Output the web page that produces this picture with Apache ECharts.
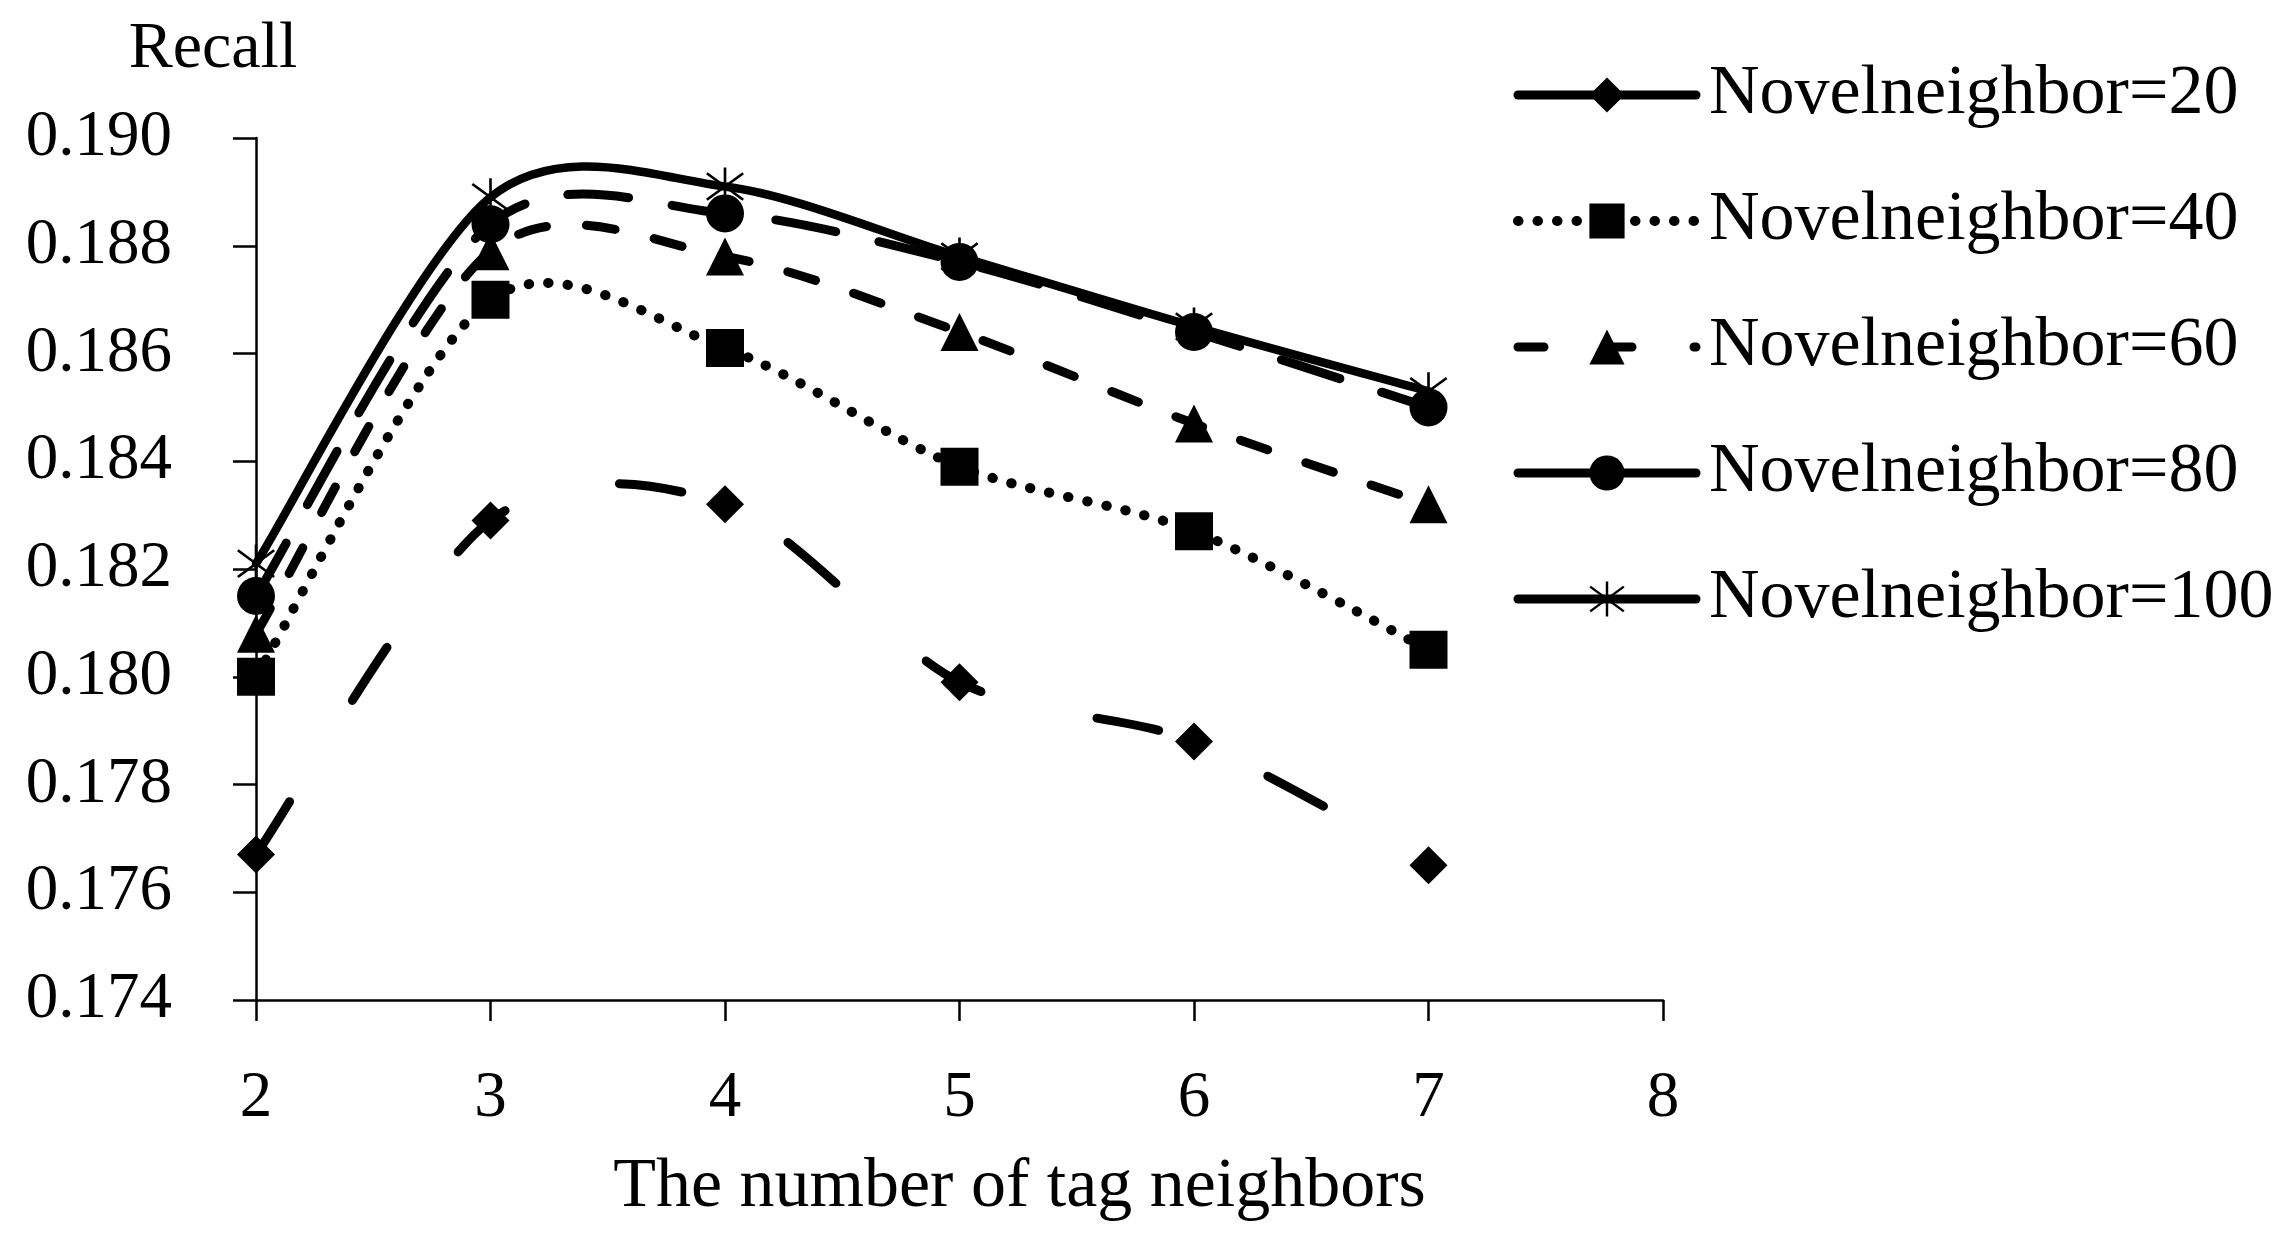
<!DOCTYPE html>
<html>
<head>
<meta charset="utf-8">
<script src="https://cdn.jsdelivr.net/npm/echarts@6/dist/echarts.min.js"></script>
<style>
html,body{margin:0;padding:0;background:#fff;}
#chart{width:2286px;height:1242px;}
</style>
</head>
<body>
<div id="chart"></div>
<script>
// ---- data ----
var xValues = [2, 3, 4, 5, 6, 7];
var seriesNames = ['Novelneighbor=20', 'Novelneighbor=40', 'Novelneighbor=60', 'Novelneighbor=80', 'Novelneighbor=100'];
var recall20  = [0.1767, 0.1829, 0.1832, 0.1799, 0.1788, 0.1765];
var recall40  = [0.1800, 0.1870, 0.1861, 0.1839, 0.1827, 0.1805];
var recall60  = [0.1808, 0.1879, 0.1878, 0.1864, 0.1847, 0.1832];
var recall80  = [0.1815, 0.1884, 0.1886, 0.1877, 0.1864, 0.1850];
var recall100 = [0.1821, 0.1889, 0.1891, 0.1878, 0.1865, 0.1853];
var yTicks = [0.174, 0.176, 0.178, 0.180, 0.182, 0.184, 0.186, 0.188, 0.190];
var xTicks = [2, 3, 4, 5, 6, 7, 8];

var FONT = '"Liberation Serif", "DejaVu Serif", serif';
var starPath = 'path://M9.35 0 L10.65 0 L10.65 20 L9.35 20 Z M0.6 3.51 L18.6 17.51 L19.4 16.49 L1.4 2.49 Z M1.4 17.51 L19.4 3.51 L18.6 2.49 L0.6 16.49 Z';
var TENSION = 0.15; // spreadsheet-style smoothing strength

function pairs(vals) {
  return xValues.map(function (x, i) { return [x, vals[i]]; });
}

var styles = [
  { data: recall20,  symbol: 'diamond',  dash: [63, 119], width: 9 },
  { data: recall40,  symbol: 'rect',     dash: [0.5, 19], width: 10 },
  { data: recall60,  symbol: 'triangle', dash: [29, 40],  width: 9 },
  { data: recall80,  symbol: 'circle',   dash: [61, 44],  width: 9 },
  { data: recall100, symbol: starPath,   dash: null,      width: 8.5 }
];
var legendLine = ['solid', [0.5, 19], [26, 62], 'solid', 'solid'];
var legendWidth = [9, 10, 9, 9, 9];

// smooth bezier path through the points mapped by the axes (api.coord)
function smoothPath(pts) {
  function dist(a, b) { return Math.sqrt((a[0]-b[0])*(a[0]-b[0]) + (a[1]-b[1])*(a[1]-b[1])); }
  var d = 'M' + pts[0][0] + ' ' + pts[0][1];
  for (var i = 0; i < pts.length - 1; i++) {
    var p0 = pts[i - 1] || pts[i], p1 = pts[i], p2 = pts[i + 1], p3 = pts[i + 2] || pts[i + 1];
    var seg = dist(p1, p2);
    var t1 = [(p2[0]-p0[0]) * TENSION, (p2[1]-p0[1]) * TENSION];
    var t2 = [(p3[0]-p1[0]) * TENSION, (p3[1]-p1[1]) * TENSION];
    var l1 = Math.sqrt(t1[0]*t1[0] + t1[1]*t1[1]), l2 = Math.sqrt(t2[0]*t2[0] + t2[1]*t2[1]);
    if (l1 > seg / 2) { t1 = [t1[0] * seg / 2 / l1, t1[1] * seg / 2 / l1]; }
    if (l2 > seg / 2) { t2 = [t2[0] * seg / 2 / l2, t2[1] * seg / 2 / l2]; }
    d += ' C' + (p1[0]+t1[0]) + ' ' + (p1[1]+t1[1]) + ' ' + (p2[0]-t2[0]) + ' ' + (p2[1]-t2[1]) + ' ' + p2[0] + ' ' + p2[1];
  }
  return d;
}

var series = [];
// curves
styles.forEach(function (s, i) {
  series.push({
    name: seriesNames[i] + ' (curve)',
    type: 'custom',
    data: pairs(s.data),
    z: 2 + i,
    silent: true,
    renderItem: function (params, api) {
      if (params.dataIndex !== 0) { return null; }
      var pts = xValues.map(function (x, k) { return api.coord([x, s.data[k]]); });
      var st = { fill: 'none', stroke: '#000', lineWidth: s.width, lineCap: 'round', lineJoin: 'round' };
      if (s.dash) { st.lineDash = s.dash; }
      return { type: 'path', shape: { pathData: smoothPath(pts) }, style: st };
    }
  });
});
// markers
styles.forEach(function (s, i) {
  series.push({
    name: seriesNames[i],
    type: 'line',
    data: pairs(s.data),
    symbol: s.symbol,
    symbolSize: 38,
    showAllSymbol: true,
    itemStyle: { color: '#000' },
    lineStyle: { color: '#000', width: s.width, opacity: 0 },
    z: 10 + i
  });
});

var chart = echarts.init(document.getElementById('chart'), null, { renderer: 'canvas' });
chart.setOption({
  backgroundColor: '#fff',
  animation: false,
  textStyle: { fontFamily: FONT, color: '#000' },
  grid: { left: 256, right: 623, top: 138, bottom: 242, containLabel: false },
  legend: {
    orient: 'vertical',
    left: 1513,
    top: 60,
    padding: 0,
    itemWidth: 178,
    itemHeight: 44,
    itemGap: 56,
    align: 'left',
    lineStyle: { width: 9, opacity: 1, color: '#000', cap: 'round' },
    textStyle: { fontFamily: FONT, fontSize: 70, color: '#000', padding: [0, 0, 0, 8] },
    data: seriesNames.map(function (n, i) {
      return { name: n, lineStyle: { type: legendLine[i], width: legendWidth[i], cap: 'round', opacity: 1, color: '#000' } };
    })
  },
  xAxis: {
    type: 'value',
    min: xTicks[0],
    max: xTicks[xTicks.length - 1],
    interval: 1,
    name: 'The number of tag neighbors',
    nameLocation: 'middle',
    nameGap: 153,
    nameTextStyle: { fontFamily: FONT, fontSize: 70, color: '#000', padding: [0, 0, 0, 120] },
    axisLine: { show: true, lineStyle: { color: '#000', width: 2.5 } },
    axisTick: { show: true, inside: false, length: 21, lineStyle: { color: '#000', width: 2.5 } },
    axisLabel: { fontFamily: FONT, fontSize: 65, color: '#000', margin: 66 },
    splitLine: { show: false }
  },
  yAxis: {
    type: 'value',
    min: yTicks[0],
    max: yTicks[yTicks.length - 1],
    interval: 0.002,
    name: 'Recall',
    nameLocation: 'end',
    nameGap: 55,
    nameTextStyle: { fontFamily: FONT, fontSize: 66, color: '#000', padding: [0, 86, 0, 0] },
    axisLine: { show: true, lineStyle: { color: '#000', width: 2.5 } },
    axisTick: { show: true, inside: false, length: 23, lineStyle: { color: '#000', width: 2.5 } },
    axisLabel: {
      fontFamily: FONT, fontSize: 65, color: '#000', margin: 84,
      formatter: function (v) { return v.toFixed(3); }
    },
    splitLine: { show: false }
  },
  series: series
});
</script>
</body>
</html>
